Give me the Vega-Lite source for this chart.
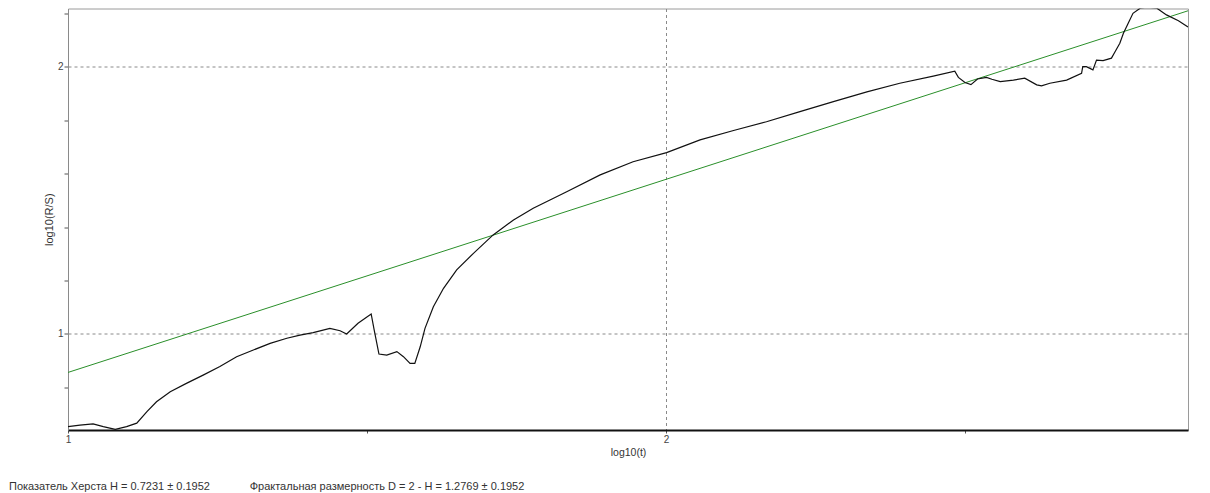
{
  "$schema": "https://vega.github.io/schema/vega-lite/v6.json",
  "autosize": {"type": "none"},
  "width": 1120,
  "height": 421.5,
  "padding": {"left": 68, "top": 8.5, "right": 22, "bottom": 63},
  "background": "white",
  "config": {
    "view": {"stroke": "#9a9a9a", "strokeWidth": 1},
    "font": "Liberation Sans"
  },
  "title": {
    "text": "Показатель Херста H = 0.7231 ± 0.1952\u00a0\u00a0\u00a0\u00a0\u00a0\u00a0\u00a0\u00a0\u00a0\u00a0\u00a0\u00a0\u00a0Фрактальная размерность D = 2 - H = 1.2769 ± 0.1952",
    "orient": "bottom",
    "anchor": "start",
    "frame": "group",
    "offset": 23,
    "dx": -59,
    "fontSize": 11,
    "fontWeight": "normal",
    "font": "Liberation Sans",
    "color": "#333333"
  },
  "datasets": {
    "rs": [
      {"t": 1.000, "rs": 0.653},
      {"t": 1.020, "rs": 0.659},
      {"t": 1.042, "rs": 0.663},
      {"t": 1.059, "rs": 0.653},
      {"t": 1.079, "rs": 0.643},
      {"t": 1.098, "rs": 0.653},
      {"t": 1.115, "rs": 0.666},
      {"t": 1.132, "rs": 0.709},
      {"t": 1.148, "rs": 0.746},
      {"t": 1.171, "rs": 0.784},
      {"t": 1.198, "rs": 0.815},
      {"t": 1.226, "rs": 0.846},
      {"t": 1.254, "rs": 0.878},
      {"t": 1.282, "rs": 0.915},
      {"t": 1.310, "rs": 0.940},
      {"t": 1.338, "rs": 0.965},
      {"t": 1.366, "rs": 0.984},
      {"t": 1.388, "rs": 0.996},
      {"t": 1.410, "rs": 1.005},
      {"t": 1.438, "rs": 1.021},
      {"t": 1.455, "rs": 1.012},
      {"t": 1.466, "rs": 1.000},
      {"t": 1.485, "rs": 1.040},
      {"t": 1.507, "rs": 1.075},
      {"t": 1.512, "rs": 1.015},
      {"t": 1.520, "rs": 0.925},
      {"t": 1.533, "rs": 0.921},
      {"t": 1.550, "rs": 0.934},
      {"t": 1.561, "rs": 0.915},
      {"t": 1.572, "rs": 0.890},
      {"t": 1.580, "rs": 0.890},
      {"t": 1.589, "rs": 0.952},
      {"t": 1.597, "rs": 1.021},
      {"t": 1.611, "rs": 1.102},
      {"t": 1.628, "rs": 1.171},
      {"t": 1.650, "rs": 1.240},
      {"t": 1.678, "rs": 1.302},
      {"t": 1.711, "rs": 1.371},
      {"t": 1.745, "rs": 1.427},
      {"t": 1.778, "rs": 1.471},
      {"t": 1.806, "rs": 1.502},
      {"t": 1.834, "rs": 1.533},
      {"t": 1.890, "rs": 1.596},
      {"t": 1.945, "rs": 1.645},
      {"t": 2.001, "rs": 1.679},
      {"t": 2.057, "rs": 1.727},
      {"t": 2.113, "rs": 1.762},
      {"t": 2.168, "rs": 1.795},
      {"t": 2.224, "rs": 1.833},
      {"t": 2.280, "rs": 1.870},
      {"t": 2.336, "rs": 1.907},
      {"t": 2.391, "rs": 1.939},
      {"t": 2.447, "rs": 1.966},
      {"t": 2.483, "rs": 1.984},
      {"t": 2.489, "rs": 1.961},
      {"t": 2.500, "rs": 1.942},
      {"t": 2.510, "rs": 1.934},
      {"t": 2.521, "rs": 1.955},
      {"t": 2.536, "rs": 1.961},
      {"t": 2.545, "rs": 1.954},
      {"t": 2.559, "rs": 1.945},
      {"t": 2.581, "rs": 1.951},
      {"t": 2.600, "rs": 1.958},
      {"t": 2.620, "rs": 1.933},
      {"t": 2.628, "rs": 1.929},
      {"t": 2.642, "rs": 1.939},
      {"t": 2.670, "rs": 1.951},
      {"t": 2.695, "rs": 1.976},
      {"t": 2.697, "rs": 2.001},
      {"t": 2.703, "rs": 2.001},
      {"t": 2.714, "rs": 1.989},
      {"t": 2.720, "rs": 2.026},
      {"t": 2.731, "rs": 2.024},
      {"t": 2.745, "rs": 2.033},
      {"t": 2.751, "rs": 2.057},
      {"t": 2.759, "rs": 2.089},
      {"t": 2.765, "rs": 2.126},
      {"t": 2.773, "rs": 2.164},
      {"t": 2.781, "rs": 2.201},
      {"t": 2.793, "rs": 2.220},
      {"t": 2.804, "rs": 2.223},
      {"t": 2.821, "rs": 2.220},
      {"t": 2.837, "rs": 2.195},
      {"t": 2.857, "rs": 2.173},
      {"t": 2.873, "rs": 2.150}
    ],
    "fit": [
      {"t": 1.0, "rs": 0.856},
      {"t": 2.873, "rs": 2.2104}
    ]
  },
  "encoding": {
    "x": {
      "field": "t",
      "type": "quantitative",
      "scale": {"domain": [1, 2.873], "nice": false, "zero": false},
      "axis": {
        "title": "log10(t)",
        "titleFontSize": 10.5,
        "titleFontWeight": "normal",
        "titleColor": "#333333",
        "titlePadding": 3,
        "values": [1, 1.5, 2, 2.5],
        "labelExpr": "datum.value == 1 ? '1' : datum.value == 2 ? '2' : ''",
        "labelFontSize": 10,
        "labelColor": "#444444",
        "labelPadding": 1,
        "labelFlush": false,
        "tickSize": 3,
        "tickColor": "#555555",
        "domainColor": "#111111",
        "domainWidth": 2,
        "grid": true,
        "gridColor": "#8a8a8a",
        "gridDash": [3, 3],
        "gridOpacity": {"condition": {"test": "datum.value == 2", "value": 1}, "value": 0}
      }
    },
    "y": {
      "field": "rs",
      "type": "quantitative",
      "scale": {"domain": [0.6404, 2.219], "nice": false, "zero": false},
      "axis": {
        "title": "log10(R/S)",
        "titleFontSize": 11,
        "titleFontWeight": "normal",
        "titleColor": "#333333",
        "titlePadding": 3,
        "values": [0.8, 1, 1.2, 1.4, 1.6, 1.8, 2, 2.2],
        "labelExpr": "datum.value == 1 ? '1' : datum.value == 2 ? '2' : ''",
        "labelFontSize": 10,
        "labelColor": "#444444",
        "labelPadding": 1,
        "labelFlush": false,
        "tickSize": 4,
        "tickColor": "#555555",
        "domainColor": "#8a8a8a",
        "domainWidth": 1,
        "grid": true,
        "gridColor": "#8a8a8a",
        "gridDash": [3, 3],
        "gridOpacity": {"condition": {"test": "datum.value == 1 || datum.value == 2", "value": 1}, "value": 0}
      }
    }
  },
  "layer": [
    {
      "data": {"name": "fit"},
      "mark": {"type": "line", "color": "#2a8f2a", "strokeWidth": 1, "clip": true}
    },
    {
      "data": {"name": "rs"},
      "mark": {"type": "line", "color": "#111111", "strokeWidth": 1.2, "clip": true}
    }
  ]
}
